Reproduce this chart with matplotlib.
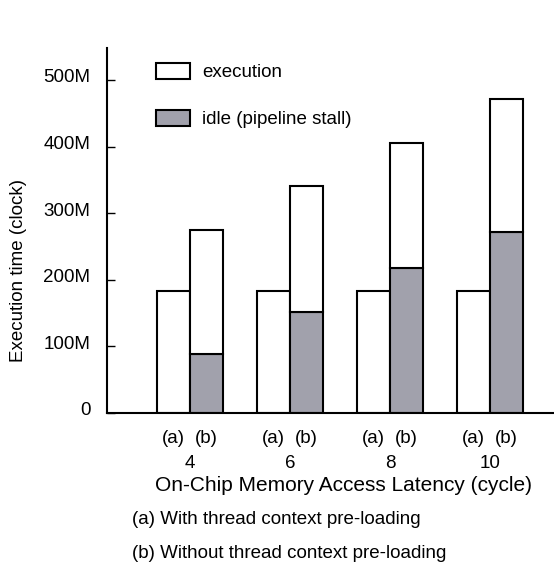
"""Stacked bar chart: execution time vs on-chip memory access latency."""

import numpy as np
import matplotlib.pyplot as plt
from matplotlib.patches import Patch
from matplotlib.transforms import ScaledTranslation

plt.rcParams['font.family'] = ['Liberation Sans', 'DejaVu Sans']

# data (millions of clock cycles)
latency = ['4', '6', '8', '10']
a_exec = [183, 183, 183, 183]
b_idle = [89, 151, 217, 271]
b_exec = [186, 190, 188, 201]
y_ticks = [0, 100, 200, 300, 400, 500]
y_labels = ['0', '100M', '200M', '300M', '400M', '500M']

GRAY = '#a1a1ac'
LW = 1.5
FS = 13.5

fig = plt.figure(figsize=(5.54, 5.64), dpi=100)
ax = fig.add_axes([107 / 554, 151 / 564, 447 / 554, 365 / 564])

x = np.arange(len(latency))
w = 1 / 3
ax.bar(x - w / 2, a_exec, w, color='white', edgecolor='black', lw=LW)
ax.bar(x + w / 2, b_idle, w, color=GRAY, edgecolor='black', lw=LW)
ax.bar(x + w / 2, b_exec, w, bottom=b_idle, color='white', edgecolor='black', lw=LW)

ax.set_xlim(-0.83, 3.64)
ax.set_ylim(0, 548)
for side in ('top', 'right'):
    ax.spines[side].set_visible(False)
for side in ('left', 'bottom'):
    ax.spines[side].set_linewidth(LW)

# y axis
ax.set_yticks(y_ticks)
ax.set_yticklabels(y_labels)
ax.tick_params(axis='y', direction='in', length=6, width=1, pad=12, labelsize=FS)
shift = ScaledTranslation(0, 3 / 72, fig.dpi_scale_trans)
for lab in ax.get_yticklabels():
    lab.set_transform(lab.get_transform() + shift)
ax.set_ylabel('Execution time (clock)', fontsize=FS)
ax.yaxis.set_label_coords(-0.18, 0.39)

# x axis: (a)/(b) under each bar, latency under each pair
ax.set_xticks(x)
ax.set_xticklabels(latency)
ax.set_xticks(np.concatenate([x - w / 2, x + w / 2]), minor=True)
ax.set_xticklabels(['(a)'] * len(x) + ['(b)'] * len(x), minor=True)
ax.tick_params(axis='x', which='both', length=0, labelsize=FS)
ax.tick_params(axis='x', which='minor', pad=12)
ax.tick_params(axis='x', which='major', pad=30)
ax.set_xlabel('On-Chip Memory Access Latency (cycle)', fontsize=15)
ax.xaxis.set_label_coords(0.528, -0.172)

# legend
handles = [Patch(facecolor='white', edgecolor='black', lw=LW, label='execution'),
           Patch(facecolor=GRAY, edgecolor='black', lw=LW, label='idle (pipeline stall)')]
ax.legend(handles=handles, loc='upper left', bbox_to_anchor=(0.11, 0.96),
          frameon=False, fontsize=FS, handlelength=1.8, handleheight=1.0,
          handletextpad=0.65, labelspacing=1.5, borderpad=0, borderaxespad=0)

# notes below the chart
fig.text(132 / 554, 1 - 520 / 564, '(a) With thread context pre-loading',
         fontsize=FS, va='center')
fig.text(132 / 554, 1 - 553 / 564, '(b) Without thread context pre-loading',
         fontsize=FS, va='center')

fig.savefig('out.png', dpi=100)
